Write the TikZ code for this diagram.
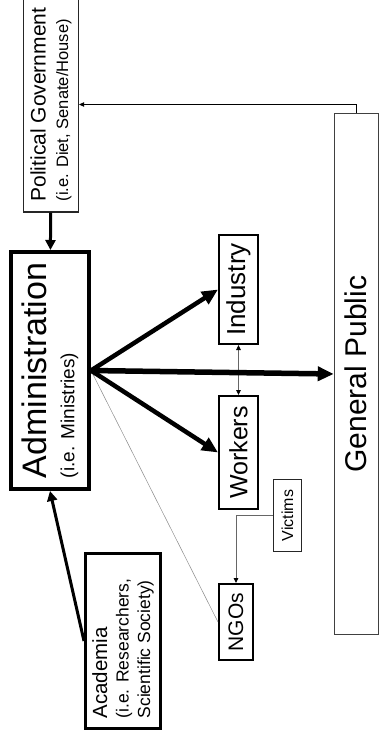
\documentclass[tikz,border=0pt]{standalone}
\usepackage{graphicx}
\usepackage{fontspec}
\setmainfont{Liberation Sans}
\usetikzlibrary{arrows.meta}

% text that reads upwards, lines stacked with a fixed baseline gap
\newcommand{\uptext}[2]{\rotatebox{90}{\vbox{\baselineskip=#1 #2}}}
\newcommand{\fs}[1]{\fontsize{#1}{#1}\selectfont}

\begin{document}
\begin{tikzpicture}[x=1pt,y=-1pt]

      \useasboundingbox (0,0) rectangle (379,736);

      \begin{scope}[every node/.style={draw,rectangle,inner sep=0pt,line width=1.8pt}]
        \node[draw=black!85,line width=1.2pt,minimum width=55,minimum height=215] (pol) at (51,104.5)
          {\uptext{22.5pt}{\hbox{\fs{21}Political Government}\hbox{\fs{16.5}(i.e. Diet, Senate/House)}}};
        \node[line width=4pt,minimum width=78,minimum height=237] (admin) at (50,370.5)
          {\uptext{28pt}{\hbox{\fs{34}Administration}\hbox{\fs{19}(i.e. Ministries)}}};
        \node[minimum width=39.2,minimum height=109.2] (ind) at (238.5,289.5)
          {\rotatebox{90}{\fs{26}Industry}};
        \node[minimum width=39.2,minimum height=113.2] (wrk) at (238.5,452.5)
          {\rotatebox{90}{\fs{25}Workers}};
        \node[minimum width=34.2,minimum height=76.2] (ngo) at (236,622)
          {\rotatebox{90}{\fs{21}NGOs}};
        \node[draw=black!85,line width=1.1pt,minimum width=28,minimum height=72] (vic) at (287.5,515.5)
          {\rotatebox{90}{\fs{16}Victims}};
        \node[draw=black!75,line width=1.1pt,minimum width=44,minimum height=521] (pub) at (356.25,374)
          {\rotatebox{90}{\fs{30}General Public}};
        \node[line width=2.6pt,minimum width=75.4,minimum height=175.4] (acad) at (123,641)
          {\uptext{21.5pt}{\hbox{\fs{20.5}Academia}\hbox{\fs{17.5}(i.e. Researchers,\kern15pt}\hbox{\fs{17.5}Scientific Society)}}};
      \end{scope}

      % thin links
      \begin{scope}[line width=0.9pt]
        \path (pub.north) edge[-{Triangle[length=5pt,width=4.5pt]}, to path={|- (\tikztotarget)}] (pol.east);
        \path (ind.south) edge[black!60,{Triangle[length=5pt,width=4.5pt,color=black]}-{Triangle[length=5pt,width=4.5pt,color=black]}] (wrk.north);
        \path (vic.west) edge[black!60,-{Triangle[length=5pt,width=4.5pt,color=black]}, to path={-| (\tikztotarget)}] (ngo.north);
        \path (admin.east) edge[black!45,line width=0.5pt] (ngo.west);
      \end{scope}

      % thick links
      \begin{scope}[line width=3pt,-{Triangle[length=10pt,width=10pt]}]
        \path (pol) edge (admin);
        \path (acad.west) edge (admin.south);
      \end{scope}
      \begin{scope}[line width=4.5pt,-{Triangle[length=16pt,width=14pt]}]
        \path (admin.east) edge (ind.west);
        \path (admin.east) edge (wrk.west);
        \path (admin.east) edge[line width=5.5pt] (pub.west);
      \end{scope}

    \end{tikzpicture}
\end{document}
